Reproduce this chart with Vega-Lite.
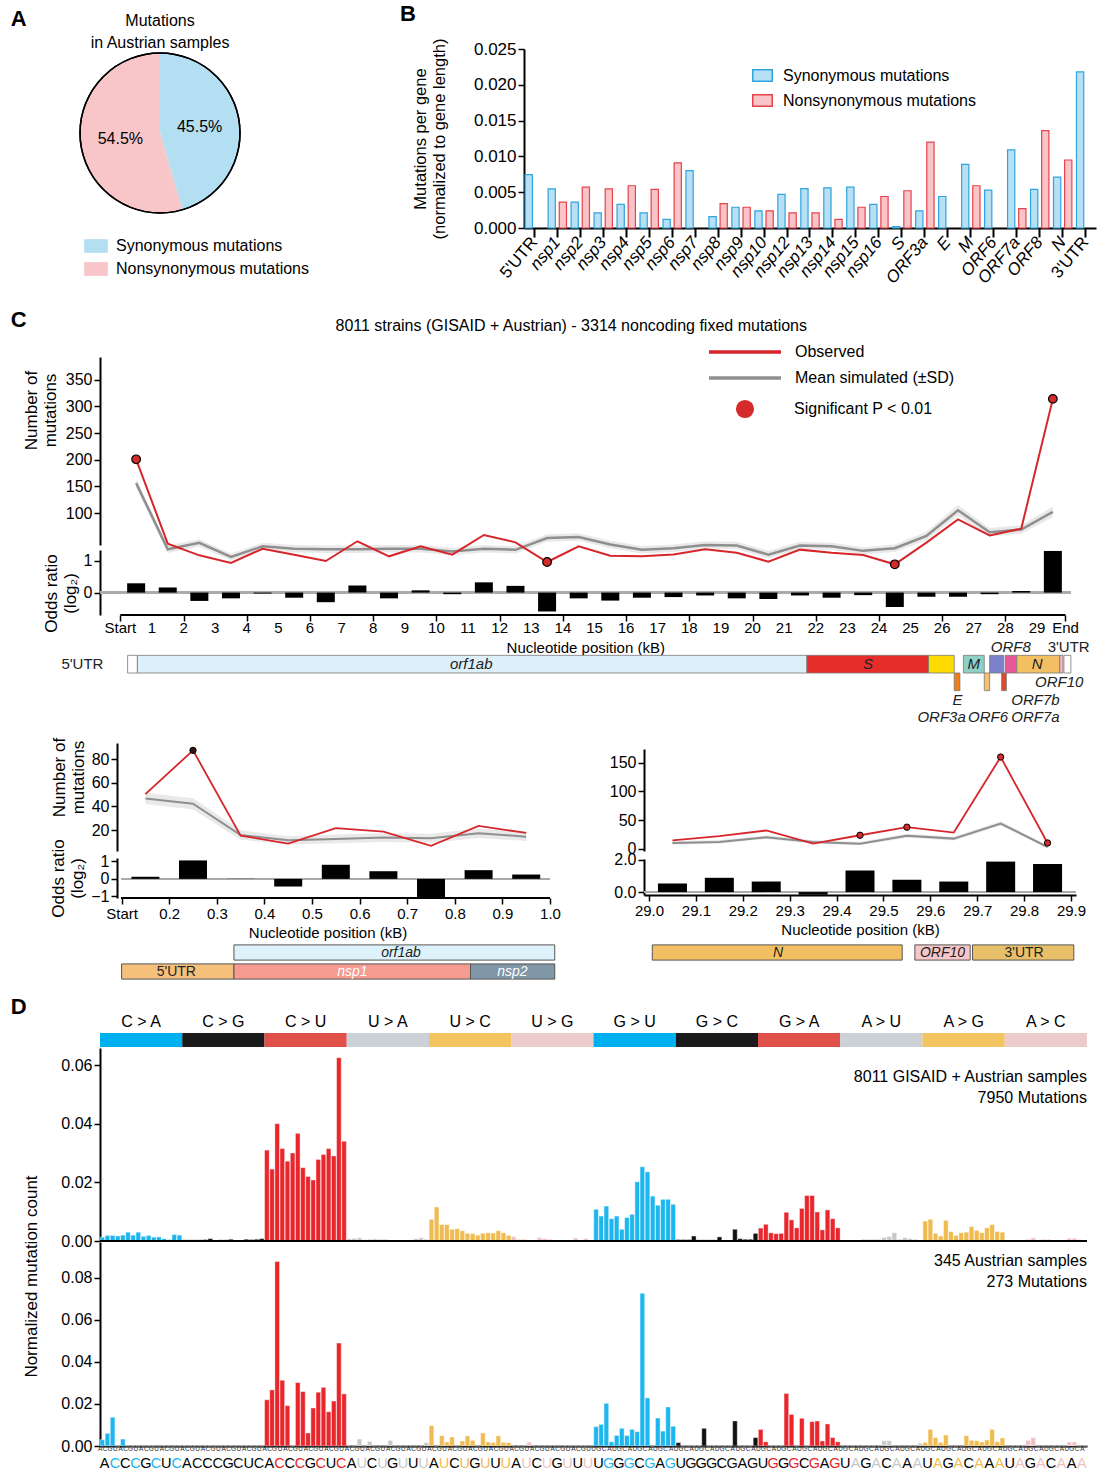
{
"$schema":"https://vega.github.io/schema/vega-lite/v6.json",
"background":"white",
"padding":{"left":10,"top":3,"right":2,"bottom":0},
"config":{"font":"Liberation Sans","view":{"stroke":null},
 "axis":{"domainColor":"#000","domainWidth":2,"tickColor":"#000","tickWidth":1.5,"tickSize":6,"labelColor":"#000","titleColor":"#000","labelFontSize":16,"titleFontSize":16,"titleFontWeight":"normal","grid":false,"labelPadding":2},
 "legend":{"labelFontSize":16,"labelColor":"#000","padding":0,"labelLimit":320},
 "title":{"fontWeight":"normal","fontSize":16,"color":"#000"}},
"datasets":{
"bdata":[
{"gene":"5'UTR","kind":"Synonymous mutations","v":0.00745},
{"gene":"nsp1","kind":"Synonymous mutations","v":0.00546},{"gene":"nsp1","kind":"Nonsynonymous mutations","v":0.00361},
{"gene":"nsp2","kind":"Synonymous mutations","v":0.00361},{"gene":"nsp2","kind":"Nonsynonymous mutations","v":0.0057},
{"gene":"nsp3","kind":"Synonymous mutations","v":0.0021},{"gene":"nsp3","kind":"Nonsynonymous mutations","v":0.00546},
{"gene":"nsp4","kind":"Synonymous mutations","v":0.0033},{"gene":"nsp4","kind":"Nonsynonymous mutations","v":0.0059},
{"gene":"nsp5","kind":"Synonymous mutations","v":0.0021},{"gene":"nsp5","kind":"Nonsynonymous mutations","v":0.0054},
{"gene":"nsp6","kind":"Synonymous mutations","v":0.0012},{"gene":"nsp6","kind":"Nonsynonymous mutations","v":0.0091},
{"gene":"nsp7","kind":"Synonymous mutations","v":0.008},
{"gene":"nsp8","kind":"Synonymous mutations","v":0.0016},{"gene":"nsp8","kind":"Nonsynonymous mutations","v":0.0034},
{"gene":"nsp9","kind":"Synonymous mutations","v":0.0029},{"gene":"nsp9","kind":"Nonsynonymous mutations","v":0.0029},
{"gene":"nsp10","kind":"Synonymous mutations","v":0.0024},{"gene":"nsp10","kind":"Nonsynonymous mutations","v":0.0024},
{"gene":"nsp12","kind":"Synonymous mutations","v":0.0047},{"gene":"nsp12","kind":"Nonsynonymous mutations","v":0.0021},
{"gene":"nsp13","kind":"Synonymous mutations","v":0.0055},{"gene":"nsp13","kind":"Nonsynonymous mutations","v":0.0021},
{"gene":"nsp14","kind":"Synonymous mutations","v":0.0056},{"gene":"nsp14","kind":"Nonsynonymous mutations","v":0.0012},
{"gene":"nsp15","kind":"Synonymous mutations","v":0.0057},{"gene":"nsp15","kind":"Nonsynonymous mutations","v":0.0029},
{"gene":"nsp16","kind":"Synonymous mutations","v":0.0033},{"gene":"nsp16","kind":"Nonsynonymous mutations","v":0.0044},
{"gene":"S","kind":"Synonymous mutations","v":0.0002},{"gene":"S","kind":"Nonsynonymous mutations","v":0.0052},
{"gene":"ORF3a","kind":"Synonymous mutations","v":0.0024},{"gene":"ORF3a","kind":"Nonsynonymous mutations","v":0.012},
{"gene":"E","kind":"Synonymous mutations","v":0.0044},
{"gene":"M","kind":"Synonymous mutations","v":0.0089},{"gene":"M","kind":"Nonsynonymous mutations","v":0.0059},
{"gene":"ORF6","kind":"Synonymous mutations","v":0.0053},
{"gene":"ORF7a","kind":"Synonymous mutations","v":0.0109},{"gene":"ORF7a","kind":"Nonsynonymous mutations","v":0.0027},
{"gene":"ORF8","kind":"Synonymous mutations","v":0.0054},{"gene":"ORF8","kind":"Nonsynonymous mutations","v":0.0136},
{"gene":"N","kind":"Synonymous mutations","v":0.0071},{"gene":"N","kind":"Nonsynonymous mutations","v":0.0095},
{"gene":"3'UTR","kind":"Synonymous mutations","v":0.0218}
],
"cticks":[
{"v":0,"t":"Start"},{"v":1,"t":"1"},{"v":2,"t":"2"},{"v":3,"t":"3"},{"v":4,"t":"4"},{"v":5,"t":"5"},{"v":6,"t":"6"},{"v":7,"t":"7"},{"v":8,"t":"8"},{"v":9,"t":"9"},
{"v":10,"t":"10"},{"v":11,"t":"11"},{"v":12,"t":"12"},{"v":13,"t":"13"},{"v":14,"t":"14"},{"v":15,"t":"15"},{"v":16,"t":"16"},{"v":17,"t":"17"},{"v":18,"t":"18"},{"v":19,"t":"19"},
{"v":20,"t":"20"},{"v":21,"t":"21"},{"v":22,"t":"22"},{"v":23,"t":"23"},{"v":24,"t":"24"},{"v":25,"t":"25"},{"v":26,"t":"26"},{"v":27,"t":"27"},{"v":28,"t":"28"},{"v":29,"t":"29"},{"v":29.9,"t":"End"}
],
"cmain":[
{"x":0.5,"obs":200.6,"sim":156,"lo":148,"hi":164,"or":0.29,"sig":true},
{"x":1.5,"obs":42.5,"sim":32,"lo":25,"hi":39,"or":0.16,"sig":false},
{"x":2.5,"obs":20.6,"sim":44,"lo":37,"hi":51,"or":-0.26,"sig":false},
{"x":3.5,"obs":6.3,"sim":17.5,"lo":11,"hi":24,"or":-0.18,"sig":false},
{"x":4.5,"obs":33,"sim":37.5,"lo":31,"hi":44,"or":-0.03,"sig":false},
{"x":5.5,"obs":21.9,"sim":33,"lo":26,"hi":40,"or":-0.16,"sig":false},
{"x":6.5,"obs":10,"sim":32,"lo":25,"hi":39,"or":-0.3,"sig":false},
{"x":7.5,"obs":47,"sim":32,"lo":25,"hi":39,"or":0.22,"sig":false},
{"x":8.5,"obs":18.8,"sim":33,"lo":26,"hi":40,"or":-0.18,"sig":false},
{"x":9.5,"obs":37.5,"sim":33,"lo":26,"hi":40,"or":0.07,"sig":false},
{"x":10.5,"obs":22,"sim":28,"lo":21,"hi":35,"or":-0.05,"sig":false},
{"x":11.5,"obs":58.8,"sim":33,"lo":26,"hi":40,"or":0.32,"sig":false},
{"x":12.5,"obs":45,"sim":31,"lo":24,"hi":38,"or":0.21,"sig":false},
{"x":13.5,"obs":8.1,"sim":53,"lo":46,"hi":60,"or":-0.59,"sig":true},
{"x":14.5,"obs":37.5,"sim":55,"lo":48,"hi":62,"or":-0.18,"sig":false},
{"x":15.5,"obs":20,"sim":41,"lo":34,"hi":48,"or":-0.25,"sig":false},
{"x":16.5,"obs":18.8,"sim":31,"lo":24,"hi":38,"or":-0.16,"sig":false},
{"x":17.5,"obs":22,"sim":34,"lo":27,"hi":41,"or":-0.14,"sig":false},
{"x":18.5,"obs":31.9,"sim":40,"lo":33,"hi":47,"or":-0.09,"sig":false},
{"x":19.5,"obs":25.6,"sim":39,"lo":32,"hi":46,"or":-0.18,"sig":false},
{"x":20.5,"obs":8.8,"sim":22,"lo":15,"hi":29,"or":-0.2,"sig":false},
{"x":21.5,"obs":31.3,"sim":39,"lo":32,"hi":46,"or":-0.09,"sig":false},
{"x":22.5,"obs":25.6,"sim":37.5,"lo":31,"hi":44,"or":-0.16,"sig":false},
{"x":23.5,"obs":21.3,"sim":29,"lo":22,"hi":36,"or":-0.08,"sig":false},
{"x":24.5,"obs":3.8,"sim":34,"lo":27,"hi":41,"or":-0.45,"sig":true},
{"x":25.5,"obs":44.4,"sim":57,"lo":49,"hi":65,"or":-0.13,"sig":false},
{"x":26.5,"obs":88,"sim":105,"lo":95,"hi":115,"or":-0.13,"sig":false},
{"x":27.5,"obs":58,"sim":64,"lo":56,"hi":72,"or":-0.05,"sig":false},
{"x":28.5,"obs":70.6,"sim":69,"lo":61,"hi":77,"or":0.05,"sig":false},
{"x":29.5,"obs":314,"sim":102,"lo":92,"hi":112,"or":1.3,"sig":true}
],
"lz":[
{"x":0.15,"obs":50.4,"sim":46.8,"lo":42,"hi":51.5,"or":0.12,"sig":false},
{"x":0.25,"obs":87.3,"sim":42.3,"lo":37.5,"hi":47,"or":1.06,"sig":true},
{"x":0.35,"obs":15.5,"sim":16,"lo":12,"hi":20,"or":0.01,"sig":false},
{"x":0.45,"obs":8.7,"sim":11.5,"lo":8,"hi":15,"or":-0.44,"sig":false},
{"x":0.55,"obs":21.7,"sim":12.7,"lo":9,"hi":16.5,"or":0.81,"sig":false},
{"x":0.65,"obs":18.9,"sim":13.8,"lo":10,"hi":17.5,"or":0.44,"sig":false},
{"x":0.75,"obs":6.8,"sim":13.2,"lo":9.5,"hi":17,"or":-1.1,"sig":false},
{"x":0.85,"obs":23.7,"sim":17.5,"lo":13.5,"hi":21.5,"or":0.5,"sig":false},
{"x":0.95,"obs":17.7,"sim":14.6,"lo":11,"hi":18.5,"or":0.25,"sig":false}
],
"rz":[
{"x":29.05,"obs":14.7,"sim":10,"lo":7,"hi":13,"or":0.53,"sig":false},
{"x":29.15,"obs":21.8,"sim":11.8,"lo":9,"hi":15,"or":0.88,"sig":false},
{"x":29.25,"obs":31.8,"sim":20,"lo":17,"hi":23,"or":0.65,"sig":false},
{"x":29.35,"obs":8.8,"sim":11.8,"lo":9,"hi":15,"or":-0.16,"sig":false},
{"x":29.45,"obs":23.5,"sim":8.8,"lo":6,"hi":12,"or":1.33,"sig":true},
{"x":29.55,"obs":37.6,"sim":22.4,"lo":19,"hi":26,"or":0.76,"sig":true},
{"x":29.65,"obs":28.2,"sim":17.6,"lo":14.5,"hi":21,"or":0.65,"sig":false},
{"x":29.75,"obs":160,"sim":44,"lo":40,"hi":48,"or":1.88,"sig":true},
{"x":29.85,"obs":10,"sim":3,"lo":1,"hi":5,"or":1.73,"sig":true}
],
"cgenes":[
{"gene":"5'UTR","s":0.23,"e":0.54,"lane":"main"},
{"gene":"orf1ab","s":0.54,"e":21.72,"lane":"main"},
{"gene":"S","s":21.72,"e":25.57,"lane":"main"},
{"gene":"ORF3a","s":25.57,"e":26.38,"lane":"main"},
{"gene":"E","s":26.38,"e":26.56,"lane":"below"},
{"gene":"M","s":26.67,"e":27.33,"lane":"main"},
{"gene":"ORF6","s":27.33,"e":27.5,"lane":"below"},
{"gene":"ORF7a","s":27.5,"e":27.94,"lane":"main"},
{"gene":"ORF7b","s":27.88,"e":28.03,"lane":"below"},
{"gene":"ORF8","s":27.99,"e":28.36,"lane":"main"},
{"gene":"N","s":28.36,"e":29.72,"lane":"main"},
{"gene":"ORF10","s":29.72,"e":29.82,"lane":"main"},
{"gene":"3'UTR","s":29.85,"e":30.07,"lane":"main"}
],
"clabels":[
{"t":"orf1ab","x":11.1,"lane":"main"},
{"t":"S","x":23.65,"lane":"main"},
{"t":"M","x":27.0,"lane":"main"},
{"t":"N","x":29.0,"lane":"main"},
{"t":"ORF8","x":28.17,"lane":"above"},
{"t":"ORF10","x":29.7,"lane":"below"},
{"t":"E","x":26.48,"lane":"lab1"},
{"t":"ORF7b","x":28.95,"lane":"lab1"},
{"t":"ORF3a","x":25.98,"lane":"lab2"},
{"t":"ORF6","x":27.45,"lane":"lab2"},
{"t":"ORF7a","x":28.95,"lane":"lab2"},
{"t":"5'UTR","x":-1.2,"lane":"main"},
{"t":"3'UTR","x":30.0,"lane":"above"}
],
"lzg":[
{"gene":"orf1ab","s":0.336,"e":1.01,"lane":"a","mid":0.687},
{"gene":"5'UTR","s":0.1,"e":0.336,"lane":"b","mid":0.215},
{"gene":"nsp1","s":0.336,"e":0.833,"lane":"b","mid":0.585},
{"gene":"nsp2","s":0.833,"e":1.01,"lane":"b","mid":0.921}
],
"rzg":[
{"gene":"N","s":29.007,"e":29.54,"lane":"a","mid":29.275},
{"gene":"ORF10","s":29.567,"e":29.685,"lane":"a","mid":29.626},
{"gene":"3'UTR","s":29.69,"e":29.906,"lane":"a","mid":29.8}
],
"groups":[{"m":"C > A"},{"m":"C > G"},{"m":"C > U"},{"m":"U > A"},{"m":"U > C"},{"m":"U > G"},{"m":"G > U"},{"m":"G > C"},{"m":"G > A"},{"m":"A > U"},{"m":"A > G"},{"m":"A > C"}],
"dd":[
{"id":"CAAA","m":"C > A","g":0.0013,"a":0.003},{"id":"CAAC","m":"C > A","g":0.0019,"a":0.006},{"id":"CAAG","m":"C > A","g":0.0019,"a":0.0137},{"id":"CAAU","m":"C > A","g":0.0017,"a":0},
{"id":"CACA","m":"C > A","g":0.002,"a":0.0033},{"id":"CACC","m":"C > A","g":0.003,"a":0},{"id":"CACG","m":"C > A","g":0.002,"a":0},{"id":"CACU","m":"C > A","g":0.003,"a":0},
{"id":"CAGA","m":"C > A","g":0.0016,"a":0},{"id":"CAGC","m":"C > A","g":0.0019,"a":0},{"id":"CAGG","m":"C > A","g":0.0013,"a":0},{"id":"CAGU","m":"C > A","g":0.0014,"a":0},
{"id":"CAUA","m":"C > A","g":0.0008,"a":0},{"id":"CAUC","m":"C > A","g":0.0005,"a":0},{"id":"CAUG","m":"C > A","g":0.0022,"a":0},{"id":"CAUU","m":"C > A","g":0.002,"a":0},
{"id":"CGAA","m":"C > G","g":0.0004,"a":0},{"id":"CGAC","m":"C > G","g":0.0004,"a":0},{"id":"CGAG","m":"C > G","g":0.0004,"a":0},{"id":"CGAU","m":"C > G","g":0.0004,"a":0},
{"id":"CGCA","m":"C > G","g":0.0005,"a":0},{"id":"CGCC","m":"C > G","g":0.0008,"a":0},{"id":"CGCG","m":"C > G","g":0.0001,"a":0},{"id":"CGCU","m":"C > G","g":0.0004,"a":0},
{"id":"CGGA","m":"C > G","g":0.0004,"a":0},{"id":"CGGC","m":"C > G","g":0.0006,"a":0},{"id":"CGGG","m":"C > G","g":0.0001,"a":0},{"id":"CGGU","m":"C > G","g":0.0003,"a":0},
{"id":"CGUA","m":"C > G","g":0.0006,"a":0},{"id":"CGUC","m":"C > G","g":0.0005,"a":0},{"id":"CGUG","m":"C > G","g":0.0006,"a":0},{"id":"CGUU","m":"C > G","g":0.0008,"a":0},
{"id":"CUAA","m":"C > U","g":0.031,"a":0.022},{"id":"CUAC","m":"C > U","g":0.0245,"a":0.0267},{"id":"CUAG","m":"C > U","g":0.04,"a":0.0878},{"id":"CUAU","m":"C > U","g":0.0315,"a":0.0313},
{"id":"CUCA","m":"C > U","g":0.0272,"a":0.0192},{"id":"CUCC","m":"C > U","g":0.03,"a":0},{"id":"CUCG","m":"C > U","g":0.0367,"a":0.0302},{"id":"CUCU","m":"C > U","g":0.025,"a":0.0259},
{"id":"CUGA","m":"C > U","g":0.022,"a":0.0062},{"id":"CUGC","m":"C > U","g":0.0208,"a":0.0181},{"id":"CUGG","m":"C > U","g":0.0278,"a":0.0256},{"id":"CUGU","m":"C > U","g":0.0295,"a":0.0279},
{"id":"CUUA","m":"C > U","g":0.0315,"a":0.0163},{"id":"CUUC","m":"C > U","g":0.029,"a":0.0214},{"id":"CUUG","m":"C > U","g":0.0625,"a":0.049},{"id":"CUUU","m":"C > U","g":0.034,"a":0.0248},
{"id":"UAAA","m":"U > A","g":0.0008,"a":0},{"id":"UAAC","m":"U > A","g":0.0009,"a":0},{"id":"UAAG","m":"U > A","g":0.0011,"a":0.0033},{"id":"UAAU","m":"U > A","g":0.0005,"a":0},
{"id":"UACA","m":"U > A","g":0.0006,"a":0.0022},{"id":"UACC","m":"U > A","g":0.0007,"a":0},{"id":"UACG","m":"U > A","g":0.0006,"a":0},{"id":"UACU","m":"U > A","g":0.0006,"a":0},
{"id":"UAGA","m":"U > A","g":0.0001,"a":0.0027},{"id":"UAGC","m":"U > A","g":0.0002,"a":0},{"id":"UAGG","m":"U > A","g":0.0002,"a":0},{"id":"UAGU","m":"U > A","g":0.0003,"a":0},
{"id":"UAUA","m":"U > A","g":0.0004,"a":0},{"id":"UAUC","m":"U > A","g":0.0008,"a":0},{"id":"UAUG","m":"U > A","g":0.0011,"a":0},{"id":"UAUU","m":"U > A","g":0.0006,"a":0.0016},
{"id":"UCAA","m":"U > C","g":0.0074,"a":0.0097},{"id":"UCAC","m":"U > C","g":0.0116,"a":0},{"id":"UCAG","m":"U > C","g":0.0056,"a":0.0049},{"id":"UCAU","m":"U > C","g":0.0056,"a":0.0019},
{"id":"UCCA","m":"U > C","g":0.004,"a":0.0043},{"id":"UCCC","m":"U > C","g":0.0042,"a":0},{"id":"UCCG","m":"U > C","g":0.0035,"a":0.0024},{"id":"UCCU","m":"U > C","g":0.0026,"a":0.0048},
{"id":"UCGA","m":"U > C","g":0.0025,"a":0.0027},{"id":"UCGC","m":"U > C","g":0.002,"a":0},{"id":"UCGG","m":"U > C","g":0.0026,"a":0.0062},{"id":"UCGU","m":"U > C","g":0.0028,"a":0.0019},
{"id":"UCUA","m":"U > C","g":0.0027,"a":0.0016},{"id":"UCUC","m":"U > C","g":0.0035,"a":0.0048},{"id":"UCUG","m":"U > C","g":0.0028,"a":0.0017},{"id":"UCUU","m":"U > C","g":0.0019,"a":0.0016},
{"id":"UGAA","m":"U > G","g":0.0015,"a":0},{"id":"UGAC","m":"U > G","g":0.0006,"a":0},{"id":"UGAG","m":"U > G","g":0.0006,"a":0},{"id":"UGAU","m":"U > G","g":0.0002,"a":0.0018},
{"id":"UGCA","m":"U > G","g":0.0002,"a":0},{"id":"UGCC","m":"U > G","g":0.0012,"a":0},{"id":"UGCG","m":"U > G","g":0.0008,"a":0},{"id":"UGCU","m":"U > G","g":0.0006,"a":0},
{"id":"UGGA","m":"U > G","g":0.0002,"a":0},{"id":"UGGC","m":"U > G","g":0.0003,"a":0},{"id":"UGGG","m":"U > G","g":0.0002,"a":0},{"id":"UGGU","m":"U > G","g":0.0002,"a":0},
{"id":"UGUA","m":"U > G","g":0.001,"a":0},{"id":"UGUC","m":"U > G","g":0.0002,"a":0},{"id":"UGUG","m":"U > G","g":0.0009,"a":0},{"id":"UGUU","m":"U > G","g":0.0003,"a":0},
{"id":"GUUU","m":"G > U","g":0.0108,"a":0.0092},{"id":"GUUG","m":"G > U","g":0.0085,"a":0.0103},{"id":"GUUC","m":"G > U","g":0.0119,"a":0.0203},{"id":"GUUA","m":"G > U","g":0.0076,"a":0.002},
{"id":"GUGU","m":"G > U","g":0.0085,"a":0.005},{"id":"GUGG","m":"G > U","g":0.004,"a":0.0084},{"id":"GUGC","m":"G > U","g":0.008,"a":0.005},{"id":"GUGA","m":"G > U","g":0.0091,"a":0.0079},
{"id":"GUCU","m":"G > U","g":0.0202,"a":0.0068},{"id":"GUCG","m":"G > U","g":0.0253,"a":0.0727},{"id":"GUCC","m":"G > U","g":0.0236,"a":0.0229},{"id":"GUCA","m":"G > U","g":0.0153,"a":0},
{"id":"GUAU","m":"G > U","g":0.0122,"a":0.0133},{"id":"GUAG","m":"G > U","g":0.0142,"a":0.0071},{"id":"GUAC","m":"G > U","g":0.0142,"a":0.0186},{"id":"GUAA","m":"G > U","g":0.0125,"a":0.0094},
{"id":"GCUU","m":"G > C","g":0.0005,"a":0.0016},{"id":"GCUG","m":"G > C","g":0.0005,"a":0},{"id":"GCUC","m":"G > C","g":0.0005,"a":0},{"id":"GCUA","m":"G > C","g":0.0017,"a":0},
{"id":"GCGU","m":"G > C","g":0.0004,"a":0},{"id":"GCGG","m":"G > C","g":0.0004,"a":0.0084},{"id":"GCGC","m":"G > C","g":0.0004,"a":0},{"id":"GCGA","m":"G > C","g":0.0004,"a":0},
{"id":"GCCU","m":"G > C","g":0.0014,"a":0},{"id":"GCCG","m":"G > C","g":0,"a":0},{"id":"GCCC","m":"G > C","g":0,"a":0},{"id":"GCCA","m":"G > C","g":0.004,"a":0.0119},
{"id":"GCAU","m":"G > C","g":0.0008,"a":0},{"id":"GCAG","m":"G > C","g":0.0006,"a":0},{"id":"GCAC","m":"G > C","g":0.0006,"a":0},{"id":"GCAA","m":"G > C","g":0.0026,"a":0.004},
{"id":"GAUU","m":"G > A","g":0.0044,"a":0.0079},{"id":"GAUG","m":"G > A","g":0.0057,"a":0.002},{"id":"GAUC","m":"G > A","g":0.0028,"a":0},{"id":"GAUA","m":"G > A","g":0.0025,"a":0},
{"id":"GAGU","m":"G > A","g":0.0026,"a":0},{"id":"GAGG","m":"G > A","g":0.0098,"a":0.025},{"id":"GAGC","m":"G > A","g":0.0072,"a":0.015},{"id":"GAGA","m":"G > A","g":0.0045,"a":0},
{"id":"GACU","m":"G > A","g":0.0111,"a":0.0132},{"id":"GACG","m":"G > A","g":0.0155,"a":0},{"id":"GACC","m":"G > A","g":0.0155,"a":0.0116},{"id":"GACA","m":"G > A","g":0.0099,"a":0.0119},
{"id":"GAAU","m":"G > A","g":0.0038,"a":0.0024},{"id":"GAAG","m":"G > A","g":0.0106,"a":0.0105},{"id":"GAAC","m":"G > A","g":0.0076,"a":0.004},{"id":"GAAA","m":"G > A","g":0.0045,"a":0.002},
{"id":"AUUU","m":"A > U","g":0.0003,"a":0},{"id":"AUUG","m":"A > U","g":0.0003,"a":0},{"id":"AUUC","m":"A > U","g":0.0003,"a":0},{"id":"AUUA","m":"A > U","g":0.0003,"a":0},
{"id":"AUGU","m":"A > U","g":0.0006,"a":0},{"id":"AUGG","m":"A > U","g":0.0006,"a":0},{"id":"AUGC","m":"A > U","g":0.0006,"a":0},{"id":"AUGA","m":"A > U","g":0.0006,"a":0},
{"id":"AUCU","m":"A > U","g":0.0012,"a":0.0025},{"id":"AUCG","m":"A > U","g":0.0015,"a":0.0025},{"id":"AUCC","m":"A > U","g":0.0028,"a":0},{"id":"AUCA","m":"A > U","g":0.0006,"a":0},
{"id":"AUAU","m":"A > U","g":0.0011,"a":0},{"id":"AUAG","m":"A > U","g":0.0008,"a":0},{"id":"AUAC","m":"A > U","g":0.0006,"a":0},{"id":"AUAA","m":"A > U","g":0.0003,"a":0.0013},
{"id":"AGUU","m":"A > G","g":0.0068,"a":0.0017},{"id":"AGUG","m":"A > G","g":0.0074,"a":0.0079},{"id":"AGUC","m":"A > G","g":0.0026,"a":0.004},{"id":"AGUA","m":"A > G","g":0.0017,"a":0.0017},
{"id":"AGGU","m":"A > G","g":0.007,"a":0.0052},{"id":"AGGG","m":"A > G","g":0.0032,"a":0},{"id":"AGGC","m":"A > G","g":0.0019,"a":0},{"id":"AGGA","m":"A > G","g":0.0028,"a":0},
{"id":"AGCU","m":"A > G","g":0.003,"a":0.0049},{"id":"AGCG","m":"A > G","g":0.0049,"a":0.0027},{"id":"AGCC","m":"A > G","g":0.0036,"a":0.0025},{"id":"AGCA","m":"A > G","g":0.0028,"a":0.0019},
{"id":"AGAU","m":"A > G","g":0.0045,"a":0.0029},{"id":"AGAG","m":"A > G","g":0.0056,"a":0.0079},{"id":"AGAC","m":"A > G","g":0.0032,"a":0.002},{"id":"AGAA","m":"A > G","g":0.003,"a":0.0038},
{"id":"ACUU","m":"A > C","g":0.0003,"a":0},{"id":"ACUG","m":"A > C","g":0.0003,"a":0},{"id":"ACUC","m":"A > C","g":0.0002,"a":0},{"id":"ACUA","m":"A > C","g":0.0002,"a":0},
{"id":"ACGU","m":"A > C","g":0.0006,"a":0.0027},{"id":"ACGG","m":"A > C","g":0.0011,"a":0.004},{"id":"ACGC","m":"A > C","g":0.0004,"a":0},{"id":"ACGA","m":"A > C","g":0.0006,"a":0},
{"id":"ACCU","m":"A > C","g":0.0006,"a":0},{"id":"ACCG","m":"A > C","g":0.0003,"a":0},{"id":"ACCC","m":"A > C","g":0.0003,"a":0},{"id":"ACCA","m":"A > C","g":0.0002,"a":0},
{"id":"ACAU","m":"A > C","g":0.0009,"a":0.0019},{"id":"ACAG","m":"A > C","g":0.0009,"a":0.0019},{"id":"ACAC","m":"A > C","g":0.0005,"a":0},{"id":"ACAA","m":"A > C","g":0.0003,"a":0}
],
"letters":[
{"id":"CAAA","t":"A","r":0,"m":"C > A"},{"id":"CAAG","t":"C","r":1,"m":"C > A"},{"id":"CACA","t":"C","r":0,"m":"C > A"},{"id":"CACG","t":"C","r":1,"m":"C > A"},{"id":"CAGA","t":"G","r":0,"m":"C > A"},{"id":"CAGG","t":"C","r":1,"m":"C > A"},{"id":"CAUA","t":"U","r":0,"m":"C > A"},{"id":"CAUG","t":"C","r":1,"m":"C > A"},
{"id":"CGAA","t":"A","r":0,"m":"C > G"},{"id":"CGAG","t":"C","r":1,"m":"C > G"},{"id":"CGCA","t":"C","r":0,"m":"C > G"},{"id":"CGCG","t":"C","r":1,"m":"C > G"},{"id":"CGGA","t":"G","r":0,"m":"C > G"},{"id":"CGGG","t":"C","r":1,"m":"C > G"},{"id":"CGUA","t":"U","r":0,"m":"C > G"},{"id":"CGUG","t":"C","r":1,"m":"C > G"},
{"id":"CUAA","t":"A","r":0,"m":"C > U"},{"id":"CUAG","t":"C","r":1,"m":"C > U"},{"id":"CUCA","t":"C","r":0,"m":"C > U"},{"id":"CUCG","t":"C","r":1,"m":"C > U"},{"id":"CUGA","t":"G","r":0,"m":"C > U"},{"id":"CUGG","t":"C","r":1,"m":"C > U"},{"id":"CUUA","t":"U","r":0,"m":"C > U"},{"id":"CUUG","t":"C","r":1,"m":"C > U"},
{"id":"UAAA","t":"A","r":0,"m":"U > A"},{"id":"UAAG","t":"U","r":1,"m":"U > A"},{"id":"UACA","t":"C","r":0,"m":"U > A"},{"id":"UACG","t":"U","r":1,"m":"U > A"},{"id":"UAGA","t":"G","r":0,"m":"U > A"},{"id":"UAGG","t":"U","r":1,"m":"U > A"},{"id":"UAUA","t":"U","r":0,"m":"U > A"},{"id":"UAUG","t":"U","r":1,"m":"U > A"},
{"id":"UCAA","t":"A","r":0,"m":"U > C"},{"id":"UCAG","t":"U","r":1,"m":"U > C"},{"id":"UCCA","t":"C","r":0,"m":"U > C"},{"id":"UCCG","t":"U","r":1,"m":"U > C"},{"id":"UCGA","t":"G","r":0,"m":"U > C"},{"id":"UCGG","t":"U","r":1,"m":"U > C"},{"id":"UCUA","t":"U","r":0,"m":"U > C"},{"id":"UCUG","t":"U","r":1,"m":"U > C"},
{"id":"UGAA","t":"A","r":0,"m":"U > G"},{"id":"UGAG","t":"U","r":1,"m":"U > G"},{"id":"UGCA","t":"C","r":0,"m":"U > G"},{"id":"UGCG","t":"U","r":1,"m":"U > G"},{"id":"UGGA","t":"G","r":0,"m":"U > G"},{"id":"UGGG","t":"U","r":1,"m":"U > G"},{"id":"UGUA","t":"U","r":0,"m":"U > G"},{"id":"UGUG","t":"U","r":1,"m":"U > G"},
{"id":"GUUU","t":"U","r":0,"m":"G > U"},{"id":"GUUC","t":"G","r":1,"m":"G > U"},{"id":"GUGU","t":"G","r":0,"m":"G > U"},{"id":"GUGC","t":"G","r":1,"m":"G > U"},{"id":"GUCU","t":"C","r":0,"m":"G > U"},{"id":"GUCC","t":"G","r":1,"m":"G > U"},{"id":"GUAU","t":"A","r":0,"m":"G > U"},{"id":"GUAC","t":"G","r":1,"m":"G > U"},
{"id":"GCUU","t":"U","r":0,"m":"G > C"},{"id":"GCUC","t":"G","r":1,"m":"G > C"},{"id":"GCGU","t":"G","r":0,"m":"G > C"},{"id":"GCGC","t":"G","r":1,"m":"G > C"},{"id":"GCCU","t":"C","r":0,"m":"G > C"},{"id":"GCCC","t":"G","r":1,"m":"G > C"},{"id":"GCAU","t":"A","r":0,"m":"G > C"},{"id":"GCAC","t":"G","r":1,"m":"G > C"},
{"id":"GAUU","t":"U","r":0,"m":"G > A"},{"id":"GAUC","t":"G","r":1,"m":"G > A"},{"id":"GAGU","t":"G","r":0,"m":"G > A"},{"id":"GAGC","t":"G","r":1,"m":"G > A"},{"id":"GACU","t":"C","r":0,"m":"G > A"},{"id":"GACC","t":"G","r":1,"m":"G > A"},{"id":"GAAU","t":"A","r":0,"m":"G > A"},{"id":"GAAC","t":"G","r":1,"m":"G > A"},
{"id":"AUUU","t":"U","r":0,"m":"A > U"},{"id":"AUUC","t":"A","r":1,"m":"A > U"},{"id":"AUGU","t":"G","r":0,"m":"A > U"},{"id":"AUGC","t":"A","r":1,"m":"A > U"},{"id":"AUCU","t":"C","r":0,"m":"A > U"},{"id":"AUCC","t":"A","r":1,"m":"A > U"},{"id":"AUAU","t":"A","r":0,"m":"A > U"},{"id":"AUAC","t":"A","r":1,"m":"A > U"},
{"id":"AGUU","t":"U","r":0,"m":"A > G"},{"id":"AGUC","t":"A","r":1,"m":"A > G"},{"id":"AGGU","t":"G","r":0,"m":"A > G"},{"id":"AGGC","t":"A","r":1,"m":"A > G"},{"id":"AGCU","t":"C","r":0,"m":"A > G"},{"id":"AGCC","t":"A","r":1,"m":"A > G"},{"id":"AGAU","t":"A","r":0,"m":"A > G"},{"id":"AGAC","t":"A","r":1,"m":"A > G"},
{"id":"ACUU","t":"U","r":0,"m":"A > C"},{"id":"ACUC","t":"A","r":1,"m":"A > C"},{"id":"ACGU","t":"G","r":0,"m":"A > C"},{"id":"ACGC","t":"A","r":1,"m":"A > C"},{"id":"ACCU","t":"C","r":0,"m":"A > C"},{"id":"ACCC","t":"A","r":1,"m":"A > C"},{"id":"ACAU","t":"A","r":0,"m":"A > C"},{"id":"ACAC","t":"A","r":1,"m":"A > C"}
]
},
"title":{"text":"A","anchor":"start","frame":"bounds","fontSize":22,"fontWeight":"bold","offset":-28,"dx":0},
"spacing":22,
"resolve":{"scale":{"color":"independent","fill":"independent","stroke":"independent","shape":"independent","strokeDash":"independent"},"legend":{"color":"independent","fill":"independent","stroke":"independent","shape":"independent","strokeDash":"independent"}},
"vconcat":[
{"spacing":90,
 "resolve":{"scale":{"color":"independent","fill":"independent","stroke":"independent"},"legend":{"color":"independent","fill":"independent","stroke":"independent"}},
 "hconcat":[
 {"width":120,"height":168,
  "title":{"text":["Mutations","in Austrian samples"],"fontSize":16,"lineHeight":22,"anchor":"middle","offset":-2},
  "data":{"values":[{"type":"Synonymous mutations","pct":45.5,"lab":"45.5%"},{"type":"Nonsynonymous mutations","pct":54.5,"lab":"54.5%"}]},
  "layer":[
   {"mark":{"type":"arc","outerRadius":80},
    "encoding":{"theta":{"field":"pct","type":"quantitative","stack":true},"order":{"field":"pct","sort":"ascending"},
     "color":{"field":"type","type":"nominal","scale":{"domain":["Synonymous mutations","Nonsynonymous mutations"],"range":["#b4dff3","#f8c6c8"]},
      "legend":{"orient":"none","legendX":-16,"legendY":185,"title":null,"symbolType":"M-1,-0.58H1V0.58H-1Z","symbolSize":560,"symbolStrokeWidth":0,"labelFontSize":16,"rowPadding":3,"labelOffset":8}}}},
   {"mark":{"type":"text","radius":40,"fontSize":16},
    "encoding":{"theta":{"field":"pct","type":"quantitative","stack":true},"order":{"field":"pct","sort":"ascending"},"text":{"field":"lab"}}},
   {"mark":{"type":"arc","outerRadius":80,"theta":0,"theta2":6.2832,"fillOpacity":0,"stroke":"#000","strokeWidth":1.5},"encoding":{}}
  ]},
 {"width":572,"height":179,
  "title":{"text":"B","anchor":"start","frame":"bounds","fontSize":22,"fontWeight":"bold","dx":-13,"offset":12},
  "data":{"name":"bdata"},
  "mark":{"type":"bar","strokeWidth":1.2},
  "encoding":{
   "x":{"field":"gene","type":"nominal","sort":null,"scale":{"paddingInner":0.2,"paddingOuter":0.05},
    "axis":{"title":null,"labelAngle":-50,"labelFontSize":17,"tickSize":9,"tickWidth":2,
     "labelFontStyle":{"condition":{"test":"indexof(datum.value, 'UTR') >= 0","value":"normal"},"value":"italic"}}},
   "xOffset":{"field":"kind","type":"nominal","sort":["Synonymous mutations","Nonsynonymous mutations"],"scale":{"paddingInner":0.35}},
   "y":{"field":"v","type":"quantitative","scale":{"domain":[0,0.025],"nice":false},
    "axis":{"title":["Mutations per gene","(normalized to gene length)"],"values":[0,0.005,0.01,0.015,0.02,0.025],"format":".3f","titlePadding":26,"labelFontSize":17,"titleFontSize":16.5}},
   "fill":{"field":"kind","type":"nominal","scale":{"domain":["Synonymous mutations","Nonsynonymous mutations"],"range":["#b8e0f4","#f8c4c7"]},
    "legend":{"orient":"none","legendX":228,"legendY":16,"title":null,"symbolType":"M-1,-0.6H1V0.6H-1Z","symbolSize":380,"symbolStrokeWidth":1.5,"labelFontSize":16,"rowPadding":5,"labelOffset":10}},
   "stroke":{"field":"kind","type":"nominal","scale":{"domain":["Synonymous mutations","Nonsynonymous mutations"],"range":["#2fa4de","#e8414c"]},
    "legend":{"orient":"none","legendX":228,"legendY":16,"title":null,"symbolType":"M-1,-0.6H1V0.6H-1Z","symbolSize":380,"symbolStrokeWidth":1.5,"labelFontSize":16,"rowPadding":5,"labelOffset":10}}
  }}
 ]},
{"title":{"text":"C","anchor":"start","frame":"bounds","fontSize":22,"fontWeight":"bold","offset":-14,"dx":0},
 "spacing":11,
 "resolve":{"scale":{"color":"independent","fill":"independent","stroke":"independent","shape":"independent","strokeDash":"independent"},"legend":{"color":"independent","fill":"independent","stroke":"independent","shape":"independent","strokeDash":"independent"}},
 "vconcat":[
 {"width":970.5,"height":369,
  "title":{"text":"8011 strains (GISAID + Austrian) - 3314 noncoding fixed mutations","fontSize":16,"anchor":"middle","dx":-14,"offset":4},
  "resolve":{"scale":{"y":"independent"}},
  "layer":[
   {"data":{"name":"cmain"},
    "encoding":{"x":{"field":"x","type":"quantitative","scale":{"domain":[-0.485,29.9],"nice":false,"zero":false},
      "axis":{"values":[0,1,2,3,4,5,6,7,8,9,10,11,12,13,14,15,16,17,18,19,20,21,22,23,24,25,26,27,28,29,29.9],
         "labels":false,"title":"Nucleotide position (kB)","titleFontSize":15,"titlePadding":19,"offset":-111,"domain":false}}},
    "layer":[
     {"mark":{"type":"area","color":"#e4e4e4","opacity":0.8,"clip":false},
      "encoding":{"y":{"field":"lo","type":"quantitative","scale":{"domain":[40,392.5],"range":[188,0],"nice":false,"zero":false},
        "axis":{"orient":"left","values":[100,150,200,250,300,350],"title":["Number of","mutations"],"titleFontSize":17,"titlePadding":6,"titleY":53}},
       "y2":{"field":"hi"}}},
     {"mark":{"type":"line","strokeWidth":2.5,"clip":false},
      "encoding":{"y":{"field":"sim","type":"quantitative"},
       "stroke":{"datum":"Mean simulated (±SD)","type":"nominal","scale":{"domain":["Observed","Mean simulated (±SD)"],"range":["#d7262b","#8f8f8f"]},
        "legend":{"orient":"none","legendX":631,"legendY":-19,"title":null,"symbolType":"M-3,0H3","symbolSize":576,"symbolStrokeWidth":3.5,"labelFontSize":16,"rowPadding":4,"labelOffset":36}}}},
     {"mark":{"type":"line","strokeWidth":2,"clip":false},
      "encoding":{"y":{"field":"obs","type":"quantitative"},"stroke":{"datum":"Observed","type":"nominal"}}},
     {"transform":[{"filter":"datum.sig"}],
      "mark":{"type":"point","filled":true,"fill":"#d52b2b","stroke":"#000","strokeWidth":1.2,"size":75,"opacity":1,"clip":false},
      "encoding":{"y":{"field":"obs","type":"quantitative"},
       "shape":{"datum":"Significant P < 0.01","type":"nominal","scale":{"range":["circle"]},
        "legend":{"orient":"none","legendX":635,"legendY":42,"title":null,"symbolType":"circle","symbolSize":330,"symbolFillColor":"#d52b2b","symbolStrokeColor":"#000","symbolStrokeWidth":1.5,"labelFontSize":16,"labelOffset":39}}}}
    ]},
   {"data":{"name":"cmain"},
    "layer":[
     {"mark":{"type":"rule","color":"#aaaaaa","strokeWidth":1.5},"encoding":{"y":{"datum":0,"type":"quantitative","scale":{"domain":[-0.7,1.33],"range":[258,193],"nice":false}}}},
     {"mark":{"type":"bar","size":18,"color":"#000"},
      "encoding":{
       "x":{"field":"x","type":"quantitative"},
       "y":{"field":"or","type":"quantitative",
        "axis":{"orient":"left","values":[0,1],"format":"d","title":["Odds ratio","(log₂)"],"titleFontSize":17,"titleY":236}}}},
     {"data":{"values":[{"a":0,"b":29.9}]},"mark":{"type":"rule","color":"#000","strokeWidth":2},
      "encoding":{"x":{"field":"a","type":"quantitative"},"x2":{"field":"b"},"y":{"datum":-0.7,"type":"quantitative"}}},
     {"data":{"name":"cticks"},"mark":{"type":"text","fontSize":15,"baseline":"middle","color":"#000"},
      "encoding":{"x":{"field":"v","type":"quantitative"},"y":{"datum":-1.1,"type":"quantitative"},"text":{"field":"t"}}}
    ]},
   {"layer":[
     {"data":{"name":"cgenes"},"mark":{"type":"rect","stroke":"#777777","strokeWidth":0.8},
      "encoding":{
       "x":{"field":"s","type":"quantitative"},
       "x2":{"field":"e"},
       "y":{"field":"lane","type":"ordinal","scale":{"domain":["l0","above","main","below","lab1","lab2"],"range":[263,369],"paddingInner":0,"paddingOuter":0},"axis":null},
       "color":{"field":"gene","type":"nominal","scale":{"domain":["5'UTR","orf1ab","S","ORF3a","E","M","ORF6","ORF7a","ORF7b","ORF8","N","ORF10","3'UTR"],"range":["#ffffff","#dcf0fa","#e52d2a","#ffdc00","#ef7d1a","#8ed0c6","#f6c16d","#7a82c9","#e2462b","#e9579b","#f2c063","#f5b8c4","#ffffff"]},"legend":null}}},
     {"data":{"name":"clabels"},"transform":[{"filter":"indexof(datum.t, 'UTR') < 0"}],
      "mark":{"type":"text","fontSize":15,"fontStyle":"italic","color":"#222"},
      "encoding":{"x":{"field":"x","type":"quantitative"},"y":{"field":"lane","type":"ordinal"},"text":{"field":"t"}}},
     {"data":{"name":"clabels"},"transform":[{"filter":"indexof(datum.t, 'UTR') >= 0"}],
      "mark":{"type":"text","fontSize":15,"color":"#222"},
      "encoding":{"x":{"field":"x","type":"quantitative"},"y":{"field":"lane","type":"ordinal"},"text":{"field":"t"}}}
   ]}
  ]},
 {"spacing":15,
  "resolve":{"scale":{"color":"independent","fill":"independent","stroke":"independent","shape":"independent","strokeDash":"independent"},"legend":{"color":"independent","fill":"independent","stroke":"independent","shape":"independent","strokeDash":"independent"}},
  "vconcat":[
  {"spacing":48,
   "resolve":{"scale":{"color":"independent","strokeDash":"independent"},"legend":{"color":"independent","strokeDash":"independent"}},
   "hconcat":[
   {"width":455,"height":238,
    "resolve":{"scale":{"y":"independent"}},
    "layer":[
     {"data":{"name":"lz"},
      "encoding":{"x":{"field":"x","type":"quantitative","scale":{"domain":[0.0651,1.0],"nice":false,"zero":false},
        "axis":{"values":[0.1,0.2,0.3,0.4,0.5,0.6,0.7,0.8,0.9,1.0],"labelExpr":"datum.value < 0.15 ? 'Start' : format(datum.value, '.1f')","labelOverlap":false,"labelFlush":false,"title":"Nucleotide position (kB)","labelFontSize":15,"titleFontSize":15,"offset":-83,"domain":false}}},
      "layer":[
       {"mark":{"type":"area","color":"#e4e4e4","opacity":0.8},
        "encoding":{"y":{"field":"lo","type":"quantitative","scale":{"domain":[2.5,93.5],"range":[108,0],"nice":false,"zero":false},
          "axis":{"orient":"left","offset":-17,"values":[20,40,60,80],"title":["Number of","mutations"],"titleFontSize":17,"titleY":34}},"y2":{"field":"hi"}}},
       {"mark":{"type":"line","color":"#8f8f8f","strokeWidth":2},"encoding":{"y":{"field":"sim","type":"quantitative"}}},
       {"mark":{"type":"line","color":"#d7262b","strokeWidth":1.8},"encoding":{"y":{"field":"obs","type":"quantitative"}}},
       {"transform":[{"filter":"datum.sig"}],"mark":{"type":"point","filled":true,"fill":"#3a1212","stroke":"#000","strokeWidth":1,"size":40,"opacity":1},
        "encoding":{"y":{"field":"obs","type":"quantitative"}}}
      ]},
     {"data":{"name":"lz"},
      "layer":[
       {"mark":{"type":"rule","color":"#aaaaaa","strokeWidth":1.5},"encoding":{"x":{"datum":0.1,"type":"quantitative"},"x2":{"datum":1.0},"y":{"datum":0,"type":"quantitative","scale":{"domain":[-1.1,1.2],"range":[155,115],"nice":false}}}},
       {"mark":{"type":"bar","size":28,"color":"#000"},
        "encoding":{
         "x":{"field":"x","type":"quantitative"},
         "y":{"field":"or","type":"quantitative",
          "axis":{"orient":"left","offset":-17,"values":[-1,0,1],"format":"d","title":["Odds ratio","(log₂)"],"titleFontSize":17}}}},
       {"mark":{"type":"rule","color":"#000","strokeWidth":2},"encoding":{"x":{"datum":0.1,"type":"quantitative"},"x2":{"datum":1.0},"y":{"datum":-1.1,"type":"quantitative"}}}
      ]},
     {"data":{"name":"lzg"},
      "layer":[
       {"mark":{"type":"rect","stroke":"#555555","strokeWidth":1},
        "encoding":{
         "x":{"field":"s","type":"quantitative"},"x2":{"field":"e"},
         "y":{"field":"lane","type":"ordinal","scale":{"domain":["l0","l1","a","b"],"range":[162,238],"paddingInner":0.2,"paddingOuter":0.1},"axis":null},
         "color":{"field":"gene","type":"nominal","scale":{"domain":["orf1ab","5'UTR","nsp1","nsp2"],"range":["#def2fb","#f5c07b","#f59b90","#7f97a6"]},"legend":null},
         "strokeDash":{"condition":{"test":"indexof(datum.gene, 'UTR') >= 0","value":[2,1.5]},"value":[1,0]}}},
       {"transform":[{"filter":"indexof(datum.gene, 'UTR') < 0"}],"mark":{"type":"text","fontSize":14,"fontStyle":"italic"},
        "encoding":{"x":{"field":"mid","type":"quantitative"},"y":{"field":"lane","type":"ordinal"},"text":{"field":"gene"},
         "color":{"condition":{"test":"datum.gene == 'nsp1' || datum.gene == 'nsp2'","value":"#ffffff"},"value":"#222222"}}},
       {"transform":[{"filter":"indexof(datum.gene, 'UTR') >= 0"}],"mark":{"type":"text","fontSize":14,"color":"#222222"},
        "encoding":{"x":{"field":"mid","type":"quantitative"},"y":{"field":"lane","type":"ordinal"},"text":{"field":"gene"}}}
      ]}
    ]},
   {"width":432,"height":238,
    "resolve":{"scale":{"y":"independent"}},
    "layer":[
     {"data":{"name":"rz"},
      "encoding":{"x":{"field":"x","type":"quantitative","scale":{"domain":[29.0,29.9],"nice":false,"zero":false},
        "axis":{"values":[29.0,29.1,29.2,29.3,29.4,29.5,29.6,29.7,29.8,29.9],"format":".1f","labelOverlap":false,"title":"Nucleotide position (kB)","labelFontSize":15,"titleFontSize":15,"offset":-86}}},
      "layer":[
       {"mark":{"type":"area","color":"#e4e4e4","opacity":0.8},
        "encoding":{"y":{"field":"lo","type":"quantitative","scale":{"domain":[-4,174],"range":[108,6],"nice":false,"zero":false},
          "axis":{"orient":"left","values":[0,50,100,150],"title":null}},"y2":{"field":"hi"}}},
       {"mark":{"type":"line","color":"#8f8f8f","strokeWidth":2},"encoding":{"y":{"field":"sim","type":"quantitative"}}},
       {"mark":{"type":"line","color":"#d7262b","strokeWidth":1.8},"encoding":{"y":{"field":"obs","type":"quantitative"}}},
       {"transform":[{"filter":"datum.sig"}],"mark":{"type":"point","filled":true,"fill":"#d52b2b","stroke":"#000","strokeWidth":1,"size":40,"opacity":1},
        "encoding":{"y":{"field":"obs","type":"quantitative"}}}
      ]},
     {"data":{"name":"rz"},
      "layer":[
       {"mark":{"type":"rule","color":"#aaaaaa","strokeWidth":1.5},"encoding":{"y":{"datum":0,"type":"quantitative","scale":{"domain":[-0.18,2.04],"range":[152,116],"nice":false}}}},
       {"mark":{"type":"bar","size":29,"color":"#000"},
        "encoding":{
         "x":{"field":"x","type":"quantitative"},
         "y":{"field":"or","type":"quantitative",
          "axis":{"orient":"left","values":[0,2],"format":".1f","title":null}}}}
      ]},
     {"data":{"name":"rzg"},
      "layer":[
       {"mark":{"type":"rect","stroke":"#555555","strokeWidth":1},
        "encoding":{
         "x":{"field":"s","type":"quantitative"},"x2":{"field":"e"},
         "y":{"field":"lane","type":"ordinal","scale":{"domain":["l0","l1","a","b"],"range":[162,238],"paddingInner":0.2,"paddingOuter":0.1},"axis":null},
         "color":{"field":"gene","type":"nominal","scale":{"domain":["N","ORF10","3'UTR"],"range":["#f2c063","#f7c6c9","#e9c06a"]},"legend":null},
         "strokeDash":{"condition":{"test":"indexof(datum.gene, 'UTR') >= 0","value":[2,1.5]},"value":[1,0]}}},
       {"transform":[{"filter":"indexof(datum.gene, 'UTR') < 0"}],"mark":{"type":"text","fontSize":14,"fontStyle":"italic","color":"#222222"},
        "encoding":{"x":{"field":"mid","type":"quantitative"},"y":{"field":"lane","type":"ordinal"},"text":{"field":"gene"}}},
       {"transform":[{"filter":"indexof(datum.gene, 'UTR') >= 0"}],"mark":{"type":"text","fontSize":14,"color":"#222222"},
        "encoding":{"x":{"field":"mid","type":"quantitative"},"y":{"field":"lane","type":"ordinal"},"text":{"field":"gene"}}}
      ]}
    ]}
  ]},
  {"title":{"text":"D","anchor":"start","frame":"bounds","fontSize":22,"fontWeight":"bold","offset":-6,"dx":-12},
   "spacing":1,
   "resolve":{"scale":{"color":"independent"},"legend":{"color":"independent"}},
   "vconcat":[
   {"width":987,"height":14,"data":{"name":"groups"},
    "mark":{"type":"rect"},
    "encoding":{
     "x":{"field":"m","type":"nominal","sort":null,"scale":{"paddingInner":0,"paddingOuter":0},"axis":{"orient":"top","title":null,"ticks":false,"domain":false,"labelFontSize":16,"labelPadding":4,"labelAngle":0}},
     "color":{"field":"m","type":"nominal","scale":{"domain":["C > A","C > G","C > U","U > A","U > C","U > G","G > U","G > C","G > A","A > U","A > G","A > C"],"range":["#00b0f0","#1a1a1a","#e0504a","#ccd0d7","#f3c462","#ebcbcb","#00b0f0","#1a1a1a","#e0504a","#ccd0d7","#f3c462","#ebcbcb"]},"legend":null}}},
   {"width":987,"height":398,
    "resolve":{"scale":{"y":"independent"}},
    "layer":[
     {"layer":[
       {"data":{"name":"dd"},"mark":{"type":"bar","stroke":"#ffffff","strokeWidth":0.4},
        "encoding":{
         "x":{"field":"id","type":"nominal","sort":null,"scale":{"paddingInner":0.1,"paddingOuter":0}},
         "y":{"field":"g","type":"quantitative","scale":{"domain":[0,0.0658],"range":[193,0],"nice":false},"axis":{"orient":"left","values":[0,0.02,0.04,0.06],"format":".2f","title":null}},
         "color":{"field":"m","type":"nominal","scale":{"domain":["C > A","C > G","C > U","U > A","U > C","U > G","G > U","G > C","G > A","A > U","A > G","A > C"],"range":["#1eb6ee","#111111","#e8262b","#c8c8c8","#f0bb50","#eec2c2","#1eb6ee","#111111","#e8262b","#c8c8c8","#f0bb50","#eec2c2"]},"legend":null}}},
       {"data":{"values":[{}]},"mark":{"type":"rule","color":"#000","strokeWidth":2},"encoding":{"y":{"datum":0,"type":"quantitative"}}},
       {"data":{"values":[{"t":"8011 GISAID + Austrian samples\n7950 Mutations"}]},
        "mark":{"type":"text","align":"right","baseline":"top","fontSize":16,"lineBreak":"\n","lineHeight":21},
        "encoding":{"text":{"field":"t"},"x":{"datum":"ACAA","type":"nominal","bandPosition":1},"y":{"datum":0.0588,"type":"quantitative"}}}
     ]},
     {"layer":[
       {"data":{"name":"dd"},"mark":{"type":"bar","stroke":"#ffffff","strokeWidth":0.4},
        "encoding":{
         "x":{"field":"id","type":"nominal","sort":null,
          "axis":{"ticks":false,"title":null,"domainWidth":2,"labelFontSize":6.5,"labelAngle":0,"labelPadding":2,"labelColor":"#333333","labelExpr":"substring(datum.value, 3, 4)","labelOverlap":false,"labelBound":false,"labelFlush":false}},
         "y":{"field":"a","type":"quantitative","scale":{"domain":[0,0.0971],"range":[398,194],"nice":false},"axis":{"orient":"left","values":[0,0.02,0.04,0.06,0.08],"format":".2f","title":"Normalized mutation count","titleY":228,"titleFontSize":17,"titlePadding":20}},
         "color":{"field":"m","type":"nominal","legend":null}}},
       {"data":{"name":"letters"},"mark":{"type":"text","fontSize":14.5,"baseline":"middle"},
        "encoding":{"x":{"field":"id","type":"nominal","sort":null,"bandPosition":1},"y":{"datum":-0.0086,"type":"quantitative"},"text":{"field":"t"},
         "color":{"condition":{"test":"datum.r == 0","value":"#000000"},"field":"m","type":"nominal","legend":null}}},
       {"data":{"values":[{"t":"345 Austrian samples\n273 Mutations"}]},
        "mark":{"type":"text","align":"right","baseline":"top","fontSize":16,"lineBreak":"\n","lineHeight":21},
        "encoding":{"text":{"field":"t"},"x":{"datum":"ACAA","type":"nominal","bandPosition":1},"y":{"datum":0.0921,"type":"quantitative"}}}
     ]}
    ]}
  ]}
 ]}
 ]}
]
}
